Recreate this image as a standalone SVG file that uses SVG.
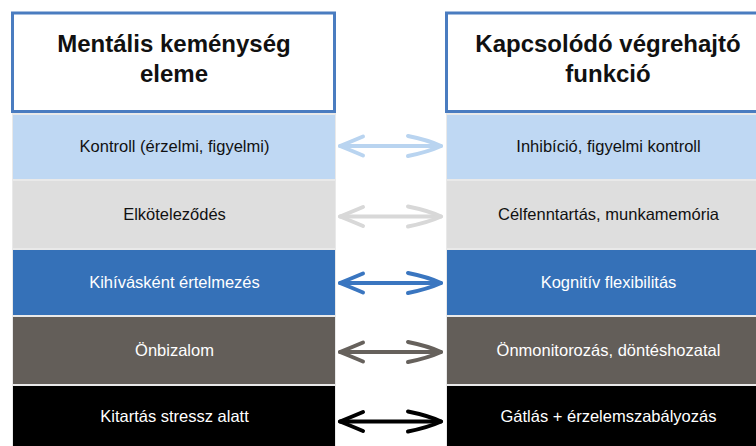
<svg xmlns="http://www.w3.org/2000/svg" width="756" height="446" viewBox="0 0 756 446">
  <style>
    .head { fill: #ffffff; stroke: #4a7cc0; stroke-width: 3; }
    .colbg { fill: #e9e9e9; }
    .htxt { font-family: "Liberation Sans", Arial, Helvetica, sans-serif; font-size: 24px; font-weight: bold; fill: #111111; text-anchor: middle; }
    .rtxt { font-family: "Liberation Sans", Arial, Helvetica, sans-serif; font-size: 16.5px; text-anchor: middle; }
    .dark { fill: #111111; }
    .light { fill: #ffffff; }
    .r1 { fill: #bfd8f3; }
    .r2 { fill: #dedede; }
    .r3 { fill: #3571b8; }
    .r4 { fill: #635e59; }
    .r5 { fill: #000000; }
    .arr { fill: none; stroke-width: 4; stroke-linecap: round; stroke-linejoin: round; }
  </style>
  <defs>
    <!-- double-headed arrow, drawn around y = 0 -->
    <g id="dbl">
      <path d="M340 0 L441 0"/>
      <path d="M363 -9.5 Q350 -4 340 0 Q350 4 363 9.5"/>
      <path d="M408 -10 Q428 -6 441 0 Q428 6 408 10"/>
    </g>
  </defs>

  <rect width="756" height="446" fill="#ffffff"/>

  <!-- column backgrounds (row separators show through) -->
  <rect class="colbg" x="12" y="113" width="324" height="340"/>
  <rect class="colbg" x="446" y="113" width="324" height="340"/>

  <!-- left column -->
  <g id="left-header">
    <rect class="head" x="12.5" y="13" width="322" height="98.5"/>
    <text class="htxt" x="174" y="52">Mentális keménység</text>
    <text class="htxt" x="174" y="82">eleme</text>
  </g>
  <g id="left-row-1">
    <rect class="r1" x="13" y="115" width="322" height="64"/>
    <text class="rtxt dark" x="174.5" y="152">Kontroll (érzelmi, figyelmi)</text>
  </g>
  <g id="left-row-2">
    <rect class="r2" x="13" y="181" width="322" height="67"/>
    <text class="rtxt dark" x="174.5" y="220">Elköteleződés</text>
  </g>
  <g id="left-row-3">
    <rect class="r3" x="13" y="250" width="322" height="65"/>
    <text class="rtxt light" x="174.5" y="288">Kihívásként értelmezés</text>
  </g>
  <g id="left-row-4">
    <rect class="r4" x="13" y="317" width="322" height="67"/>
    <text class="rtxt light" x="174.5" y="356">Önbizalom</text>
  </g>
  <g id="left-row-5">
    <rect class="r5" x="13" y="386" width="322" height="67"/>
    <text class="rtxt light" x="174.5" y="422">Kitartás stressz alatt</text>
  </g>

  <!-- right column -->
  <g id="right-header">
    <rect class="head" x="446.5" y="13" width="322" height="98.5"/>
    <text class="htxt" x="608" y="52">Kapcsolódó végrehajtó</text>
    <text class="htxt" x="608" y="82">funkció</text>
  </g>
  <g id="right-row-1">
    <rect class="r1" x="447" y="115" width="322" height="64"/>
    <text class="rtxt dark" x="608.5" y="152">Inhibíció, figyelmi kontroll</text>
  </g>
  <g id="right-row-2">
    <rect class="r2" x="447" y="181" width="322" height="67"/>
    <text class="rtxt dark" x="608.5" y="220">Célfenntartás, munkamemória</text>
  </g>
  <g id="right-row-3">
    <rect class="r3" x="447" y="250" width="322" height="65"/>
    <text class="rtxt light" x="608.5" y="288">Kognitív flexibilitás</text>
  </g>
  <g id="right-row-4">
    <rect class="r4" x="447" y="317" width="322" height="67"/>
    <text class="rtxt light" x="608.5" y="356">Önmonitorozás, döntéshozatal</text>
  </g>
  <g id="right-row-5">
    <rect class="r5" x="447" y="386" width="322" height="67"/>
    <text class="rtxt light" x="608.5" y="422">Gátlás + érzelemszabályozás</text>
  </g>

  <!-- connectors -->
  <g id="connectors">
    <use href="#dbl" class="arr" stroke="#b9d4f0" transform="translate(0 146)"/>
    <use href="#dbl" class="arr" stroke="#d8d8d8" transform="translate(0 216.5)"/>
    <use href="#dbl" class="arr" stroke="#3a76c0" transform="translate(0 283)"/>
    <use href="#dbl" class="arr" stroke="#66615c" transform="translate(0 352)"/>
    <use href="#dbl" class="arr" stroke="#000000" transform="translate(0 421.5)"/>
  </g>
</svg>
